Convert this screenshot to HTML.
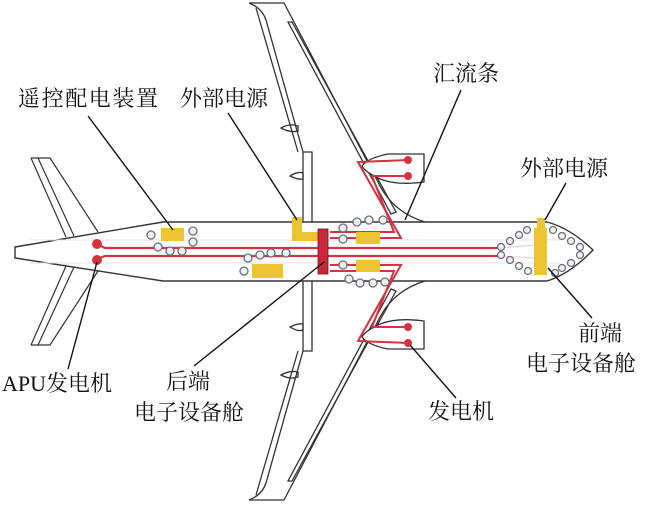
<!DOCTYPE html>
<html><head><meta charset="utf-8"><style>
html,body{margin:0;padding:0;background:#fff;}
svg{display:block;}
text{font-family:"Liberation Serif","Noto Serif CJK SC",serif;font-size:22px;fill:#111;}
</style></head><body>
<svg width="655" height="505" viewBox="0 0 655 505" xmlns="http://www.w3.org/2000/svg">
<defs>
<g id="wing" fill="none" stroke="#333" stroke-width="1.3">
  <path d="M249,3 L284,3 L378,182 Q392,212 425,222" fill="#fff"/>
  <path d="M249,3 Q262,8 266,20 L303,152 L303,222"/>
  <path d="M256,8 L298,152"/>
  <path d="M303,152 L312,152 L312,222"/>
  <path d="M288,22 L292,22 L396,212 L391,214 Z"/>
  <path d="M281,128 Q290,123 298,126 L298,131 Q290,133 281,128 Z"/>
  <path d="M290,176 Q298,171 303,173 L303,179 Q298,180 290,176 Z"/>
  <path d="M424,154 L424,182 Q395,186 378,178 Q364,171 362,166 Q368,158 388,154 Z" fill="#fff"/>
  <path d="M255,25 L301,200" stroke="none"/>
</g>
<g id="tail" fill="none" stroke="#333" stroke-width="1.2">
  <path d="M31,158 L50,158 L98,232"/>
  <path d="M31,158 L66,237"/>
  <path d="M38,158 L74,236"/>
</g>
<g id="ewire" fill="none" stroke="#d33340" stroke-width="2">
  <path d="M408,160 L358,162 L401,238 L330,238"/>
  <path d="M408,176 L372,176 L394,232 L330,232"/>
</g>
</defs>

<use href="#wing"/>
<use href="#wing" transform="translate(0,503) scale(1,-1)"/>
<use href="#tail"/>
<use href="#tail" transform="translate(0,503) scale(1,-1)"/>

<!-- fuselage -->
<path d="M15,247 L163,222 L547,222 Q570,228 593,250 Q570,274 547,281 L163,281 L15,258 Z" fill="#fff" stroke="#333" stroke-width="1.4"/>
<line x1="30" y1="240" x2="560" y2="240" stroke="#e6e6e6" stroke-width="1"/>
<line x1="30" y1="263" x2="560" y2="263" stroke="#e6e6e6" stroke-width="1"/>

<!-- nacelle dots -->
<g fill="#d33340">
<circle cx="408" cy="160" r="4"/><circle cx="408" cy="176" r="4"/>
<circle cx="408" cy="327" r="4"/><circle cx="408" cy="343" r="4"/>
</g>
<use href="#ewire"/>
<use href="#ewire" transform="translate(0,503) scale(1,-1)"/>

<!-- main red lines -->
<g stroke="#d33340" stroke-width="2.2" fill="none">
<path d="M97,244 L105,248 L500,248"/>
<path d="M97,259 L105,256 L500,256"/>
</g>
<g stroke="#f0c8cc" stroke-width="1"><line x1="500" y1="248" x2="535" y2="245"/><line x1="500" y1="256" x2="535" y2="258"/></g>
<circle cx="97" cy="244" r="5" fill="#d33340"/>
<circle cx="97" cy="260" r="5" fill="#d33340"/>

<!-- yellow boxes -->
<g fill="#ecc431">
<rect x="161" y="228" width="23" height="13"/>
<rect x="252" y="264" width="31" height="14"/>
<rect x="356" y="232" width="24" height="12"/>
<rect x="356" y="260" width="24" height="12"/>
<path d="M292,217 L302,217 L302,232 L318,232 L318,241 L292,241 Z"/>
<path d="M537,218 L545,218 L545,228 L547,228 L547,275 L534,275 L534,228 L537,228 Z"/>
</g>
<rect x="318" y="229" width="10" height="45" fill="#c8283a" stroke="#7a1020" stroke-width="0.8"/>

<!-- gray circles -->
<g fill="#eef0f4" stroke="#6a6e7a" stroke-width="1.3">
<circle cx="151" cy="235" r="4"/><circle cx="158" cy="247" r="4"/><circle cx="170" cy="251" r="4"/><circle cx="182" cy="251" r="4"/>
<circle cx="193" cy="231" r="4"/><circle cx="193" cy="242" r="4"/>
<circle cx="244" cy="271" r="4"/><circle cx="248" cy="258" r="4"/><circle cx="260" cy="255" r="4"/><circle cx="271" cy="253" r="4"/><circle cx="286" cy="253" r="4"/>
<circle cx="343" cy="228" r="4"/><circle cx="343" cy="239" r="4"/><circle cx="357" cy="222" r="4"/><circle cx="369" cy="220" r="4"/><circle cx="383" cy="220" r="4"/>
<circle cx="343" cy="265" r="4"/><circle cx="349" cy="279" r="4"/><circle cx="360" cy="283" r="4"/><circle cx="373" cy="283" r="4"/><circle cx="385" cy="282" r="4"/>
<circle cx="501" cy="247" r="3.5"/><circle cx="501" cy="255" r="3.5"/>
<circle cx="510" cy="241" r="3.5"/><circle cx="519" cy="235" r="3.5"/><circle cx="527" cy="230" r="3.5"/>
<circle cx="510" cy="260" r="3.5"/><circle cx="519" cy="266" r="3.5"/><circle cx="528" cy="271" r="3.5"/>
<circle cx="553" cy="230" r="3.5"/><circle cx="562" cy="236" r="3.5"/><circle cx="571" cy="241" r="3.5"/><circle cx="580" cy="247" r="3.5"/><circle cx="580" cy="255" r="3.5"/>
<circle cx="571" cy="263" r="3.5"/><circle cx="562" cy="268" r="3.5"/><circle cx="555" cy="273" r="3.5"/>
</g>

<!-- leader lines -->
<g stroke="#111" stroke-width="1.4">
<line x1="88" y1="116" x2="173" y2="230"/>
<line x1="228" y1="113" x2="297" y2="220"/>
<line x1="461" y1="90" x2="405" y2="220"/>
<line x1="566" y1="183" x2="545" y2="220"/>
<line x1="548" y1="268" x2="592" y2="318"/>
<line x1="324" y1="262" x2="194" y2="366"/>
<line x1="97" y1="262" x2="68" y2="369"/>
<line x1="410" y1="345" x2="456" y2="398"/>
</g>

<!-- labels -->
<text x="18" y="106" textLength="140">遥控配电装置</text>
<text x="180" y="106">外部电源</text>
<text x="433" y="81">汇流条</text>
<text x="520" y="176">外部电源</text>
<text x="578" y="341">前端</text>
<text x="526" y="371">电子设备舱</text>
<text x="166" y="389">后端</text>
<text x="134" y="420">电子设备舱</text>
<text x="2" y="391">APU发电机</text>
<text x="428" y="419">发电机</text>
</svg>
</body></html>
